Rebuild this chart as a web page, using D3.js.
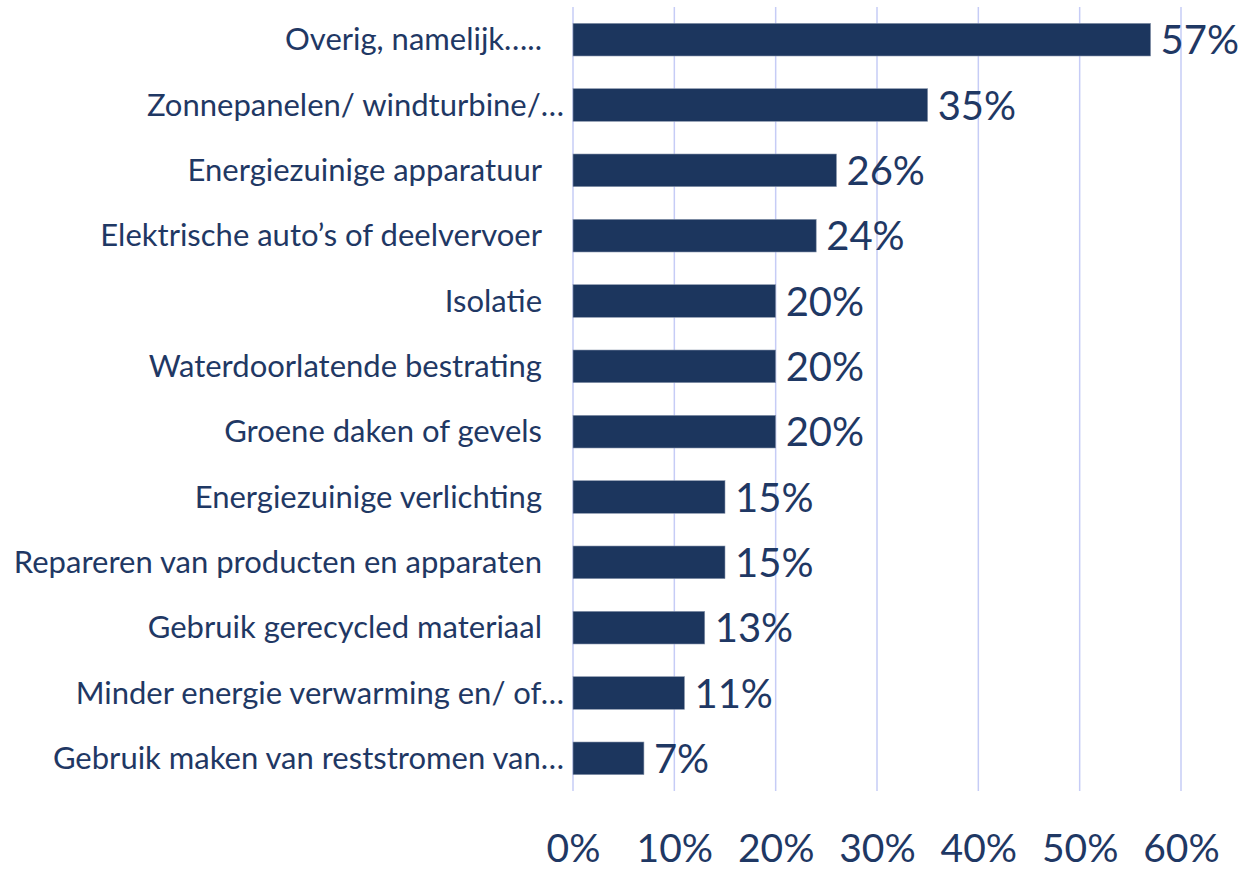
<!DOCTYPE html>
<html>
<head>
<meta charset="utf-8">
<script src="https://cdn.jsdelivr.net/npm/d3@7"></script>
<style>
  html, body { margin: 0; padding: 0; background: #ffffff; }
  svg { display: block; }
</style>
</head>
<body>
<svg id="chart" width="1243" height="872"></svg>
<script>
const categories = [
  "Overig, namelijk…..",
  "Zonnepanelen/ windturbine/…",
  "Energiezuinige apparatuur",
  "Elektrische auto’s of deelvervoer",
  "Isolatie",
  "Waterdoorlatende bestrating",
  "Groene daken of gevels",
  "Energiezuinige verlichting",
  "Repareren van producten en apparaten",
  "Gebruik gerecycled materiaal",
  "Minder energie verwarming en/ of…",
  "Gebruik maken van reststromen van…"
];
const values = [57, 35, 26, 24, 20, 20, 20, 15, 15, 13, 11, 7];
const tickValues = [0, 10, 20, 30, 40, 50, 60];

const navy = "#1f3864";
const barFill = "#1c365e";
const gridColor = "#c6ccf6";

const svg = d3.select("#chart");
const margin = { left: 573, right: 62, top: 7, bottom: 81 };
const W = 1243, H = 872;

const x = d3.scaleLinear().domain([0, 60]).range([margin.left, W - margin.right]);
const y = d3.scaleBand().domain(categories).range([margin.top, H - margin.bottom]).paddingInner(0.5).paddingOuter(0.25);

// gridlines
svg.append("g").selectAll("line").data(tickValues).join("line")
  .attr("x1", d => x(d)).attr("x2", d => x(d))
  .attr("y1", margin.top).attr("y2", H - margin.bottom)
  .attr("stroke", gridColor).attr("stroke-width", 1.5);

// bars
svg.append("g").selectAll("rect").data(values).join("rect")
  .attr("x", x(0))
  .attr("y", (d, i) => y(categories[i]))
  .attr("width", d => x(d) - x(0))
  .attr("height", y.bandwidth())
  .attr("fill", barFill)
  .attr("stroke", "#8a97ad").attr("stroke-width", 0.6);

// value labels
svg.append("g").selectAll("text").data(values).join("text")
  .attr("x", d => x(d) + 10)
  .attr("y", (d, i) => y(categories[i]) + y.bandwidth() / 2 + 14.5)
  .attr("font-family", "Lato, 'Open Sans', sans-serif")
  .attr("font-size", 40)
  .attr("fill", navy)
  .text(d => d + "%");

// category labels
svg.append("g").selectAll("text").data(categories).join("text")
  .attr("x", d => d.endsWith("…") ? 564 : 542)
  .attr("y", d => y(d) + y.bandwidth() / 2 + 10.5)
  .attr("text-anchor", "end")
  .attr("font-family", "Lato, 'Open Sans', sans-serif")
  .attr("font-size", 31)
  .attr("fill", navy)
  .text(d => d);

// x axis
const xAxis = d3.axisBottom(x).tickValues(tickValues).tickFormat(d => d + "%").tickSize(0).tickPadding(0);
const gx = svg.append("g").attr("transform", `translate(0, ${H - 10})`).call(xAxis);
gx.select(".domain").remove();
gx.selectAll("text")
  .attr("dy", 0)
  .attr("y", 0)
  .attr("font-family", "Lato, 'Open Sans', sans-serif")
  .attr("font-size", 39)
  .attr("fill", navy);
</script>
</body>
</html>
